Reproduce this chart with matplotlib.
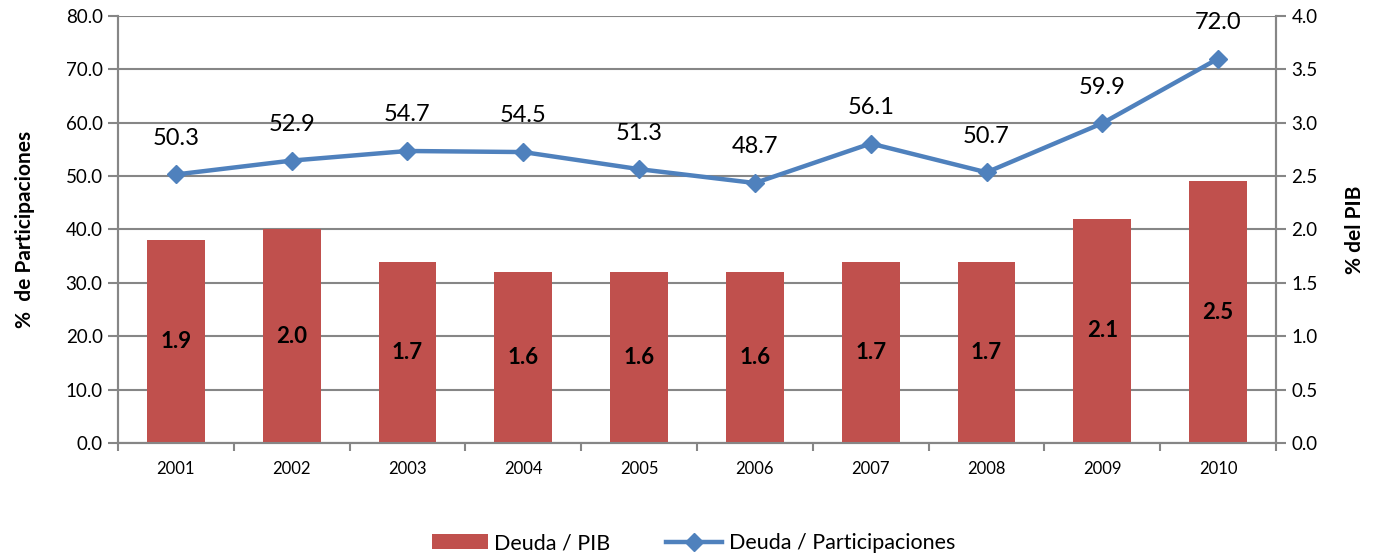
import numpy as np
import matplotlib.pyplot as plt

plt.rcParams['font.family'] = ['Lato', 'DejaVu Sans']

# datos
anios = ['2001', '2002', '2003', '2004', '2005', '2006', '2007', '2008', '2009', '2010']
deuda_pib = [1.9, 2.0, 1.7, 1.6, 1.6, 1.6, 1.7, 1.7, 2.1, 2.45]
deuda_part = [50.3, 52.9, 54.7, 54.5, 51.3, 48.7, 56.1, 50.7, 59.9, 72.0]

rojo = '#C0504D'
azul = '#4F81BD'
gris = '#868686'

fig = plt.figure(figsize=(13.73, 5.59), dpi=100)
ax = fig.add_axes([0.0859, 0.2075, 0.8435, 0.764])
ax2 = ax.twinx()

x = np.arange(len(anios))

# linea (eje izq)
ax.plot(x, deuda_part, color=azul, lw=3.2, marker='D', ms=9, label='Deuda / Participaciones')
for xi, v in zip(x, deuda_part):
    ax.annotate('%.1f' % v, (xi, v), xytext=(0, 26), textcoords='offset points',
                ha='center', va='center', fontsize=17)

# barras (eje der)
barras = ax2.bar(x, deuda_pib, width=0.5, color=rojo, label='Deuda / PIB')
for xi, v in zip(x, deuda_pib):
    ax2.text(xi, v / 2, '%.1f' % v, ha='center', va='center', fontsize=16, fontweight='bold')

ax.set_xlim(-0.5, 9.5)
ax.set_ylim(0, 80)
ax2.set_ylim(0, 4)
ax.set_yticks(np.arange(0, 81, 10))
ax.set_yticklabels(['%.1f' % t for t in np.arange(0, 81, 10)])
ax2.set_yticks(np.arange(0, 4.01, 0.5))
ax2.set_yticklabels(['%.1f' % t for t in np.arange(0, 4.01, 0.5)])

ax.set_xticks(x)
ax.set_xticklabels(anios)
ax.set_xticks(np.arange(-0.5, 10, 1), minor=True)
ax.tick_params(axis='x', which='major', length=0, labelsize=12, pad=13)
ax.tick_params(axis='x', which='minor', length=6, color=gris, width=1.5)
ax.tick_params(axis='y', length=7, color=gris, width=1.5, labelsize=13.5, pad=4)
ax2.tick_params(axis='y', length=7, color=gris, width=1.5, labelsize=13.5, pad=4)

ax.yaxis.grid(True, color=gris, lw=1.5)
ax.set_axisbelow(True)

for a in (ax, ax2):
    a.spines['top'].set_visible(False)
    for s in ('left', 'right', 'bottom'):
        a.spines[s].set_color(gris)
        a.spines[s].set_linewidth(1.5)

ax.set_ylabel('%  de Participaciones', fontsize=15, fontweight='bold', labelpad=22)
ax2.set_ylabel('% del PIB', fontsize=15, fontweight='bold', labelpad=20)

h1, l1 = ax2.get_legend_handles_labels()
h2, l2 = ax.get_legend_handles_labels()
fig.legend(h1 + h2, l1 + l2, loc='center', bbox_to_anchor=(0.505, 0.028), ncol=2,
           frameon=False, fontsize=15.5, handlelength=2.6, columnspacing=2.6, handletextpad=0.3)

fig.savefig('out.png', dpi=100)
